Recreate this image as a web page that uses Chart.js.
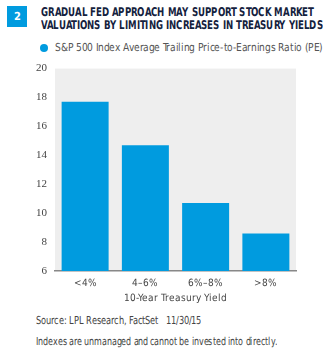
<!DOCTYPE html>
<html>
<head>
<meta charset="utf-8">
<script src="https://cdn.jsdelivr.net/npm/chart.js@4/dist/chart.umd.min.js"></script>
<style>
  @font-face { font-family: "DVCond"; src: local("DejaVu Sans Condensed"), local("DejaVuSansCondensed"); font-weight: normal; }
  @font-face { font-family: "DVCond"; src: local("DejaVu Sans Condensed Bold"), local("DejaVuSansCondensed-Bold"); font-weight: bold; }
  body { margin: 0; background: #fff; width: 330px; height: 358px; position: relative; overflow: hidden; }
  .cond { font-family: "DVCond", "DejaVu Sans", sans-serif; font-stretch: condensed; }
  .num { position: absolute; left: 7px; top: 6px; width: 20px; height: 21px; background: #009bdf; color: #fff;
         font-weight: bold; font-size: 11px; text-align: center; line-height: 21px; }
  .title { position: absolute; left: 41px; top: 6px; font-weight: bold; font-size: 11.5px;
           color: #14213d; line-height: 12.5px; white-space: nowrap; transform-origin: 0 0; }
  .dot { position: absolute; left: 40px; top: 44px; width: 8px; height: 8px; border-radius: 50%; background: #009bdf; }
  .legend { position: absolute; left: 55px; top: 41px; font-size: 11px; line-height: 14px; color: #555; white-space: nowrap; transform-origin: 0 0; }
  .wrap { position: absolute; left: 0; top: 54px; width: 330px; height: 250px; }
  .foot { position: absolute; left: 36px; font-size: 10.5px; line-height: 13px; color: #444; white-space: nowrap; transform-origin: 0 0; }
</style>
</head>
<body>
<div class="num cond">2</div>
<div class="title cond" id="title">GRADUAL FED APPROACH MAY SUPPORT STOCK MARKET<br>VALUATIONS BY LIMITING INCREASES IN TREASURY YIELDS</div>
<div class="dot"></div>
<div class="legend cond" id="legend"></div>
<div class="wrap"><canvas id="peChart"></canvas></div>
<div class="foot cond" id="src" style="top:314px">Source: LPL Research, FactSet&nbsp;&nbsp;&nbsp;11/30/15</div>
<div class="foot cond" id="note" style="top:335px">Indexes are unmanaged and cannot be invested into directly.</div>
<script>
const categories = ['<4%', '4\u20136%', '6%\u20138%', '>8%'];
const peValues = [17.7, 14.7, 10.7, 8.6];
const yTicks = [6, 8, 10, 12, 14, 16, 18, 20];
const seriesName = 'S&P 500 Index Average Trailing Price-to-Earnings Ratio (PE)';

const condFont = '"DVCond", "DejaVu Sans", sans-serif';

document.getElementById('legend').textContent = seriesName;

// the original uses a narrower face, so squeeze text blocks to its widths
function fitWidth(id, target) {
    const el = document.getElementById(id);
    const w = el.getBoundingClientRect().width;
    if (w > target) el.style.transform = 'scaleX(' + (target / w) + ')';
}

const plotBg = {
    id: 'plotBg',
    beforeDraw(chart) {
        const { ctx, chartArea: a } = chart;
        ctx.save();
        ctx.fillStyle = '#eeeeee';
        ctx.fillRect(a.left, a.top, a.right - a.left, a.bottom - a.top);
        ctx.restore();
    }
};

function drawChart() {
    fitWidth('title', 282);
    fitWidth('legend', 268);
    fitWidth('src', 165);
    fitWidth('note', 241);

    const ctx = document.getElementById('peChart');

    new Chart(ctx, {
        type: 'bar',
        data: {
            labels: categories,
            datasets: [{
                label: seriesName,
                data: peValues,
                backgroundColor: '#009bdf',
                barPercentage: 0.78,
                categoryPercentage: 1
            }]
        },
        options: {
            responsive: true,
            maintainAspectRatio: false,
            animation: false,
            layout: { padding: { left: 30, right: 34, top: 7, bottom: 0 } },
            plugins: {
                tooltip: { enabled: false },
                legend: { display: false }
            },
            scales: {
                x: {
                    grid: { display: false, drawTicks: false },
                    border: { color: '#888', width: 1.5 },
                    ticks: {
                        color: '#444',
                        padding: 7,
                        font: { family: condFont, size: 9.5 }
                    },
                    title: {
                        display: true,
                        text: '10-Year Treasury Yield',
                        color: '#444',
                        padding: { top: -4.5, bottom: 0 },
                        font: { family: condFont, size: 10 }
                    }
                },
                y: {
                    min: 6,
                    max: 20,
                    afterFit(scale) { scale.width = 25; },
                    grid: { display: false, drawTicks: false },
                    border: { display: false },
                    afterBuildTicks(scale) { scale.ticks = yTicks.map(v => ({ value: v })); },
                    ticks: {
                        color: '#444',
                        padding: 8,
                        font: { family: '"Liberation Serif", serif', size: 11 }
                    }
                }
            }
        },
        plugins: [plotBg]
    });
}

document.fonts.load('11px DVCond').then(drawChart, drawChart);
</script>
</body>
</html>
